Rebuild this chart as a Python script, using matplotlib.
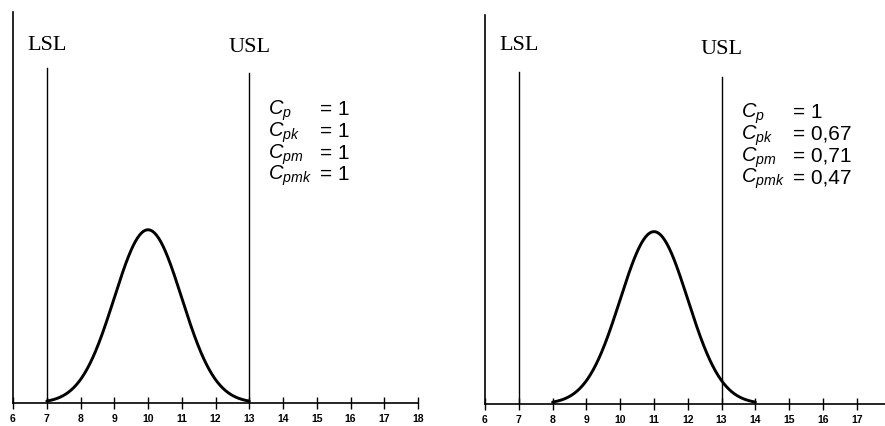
import numpy as np
import matplotlib
matplotlib.use("Agg")
import matplotlib.pyplot as plt

plt.rcParams['mathtext.fontset'] = 'custom'
plt.rcParams['mathtext.it'] = 'Liberation Sans:italic'
plt.rcParams['mathtext.rm'] = 'Liberation Sans'

# ---- data ----
lsl = 7
usl = 13
means = [10, 11]          # process mean, left / right panel
sigma = 1
ticks_left = list(range(6, 19))
ticks_right = list(range(6, 18))
index_names = [r"$C_{p}$", r"$C_{pk}$", r"$C_{pm}$", r"$C_{pmk}$"]
values_left = ["1", "1", "1", "1"]
values_right = ["1", "0,67", "0,71", "0,47"]

W, H = 885, 426
fig = plt.figure(figsize=(W / 100, H / 100), dpi=100)
fig.patch.set_facecolor("white")


def panel(rect, xmax, ticks, mean, values, spec_tops, label_y, text_x, row_y):
    ax = fig.add_axes(rect)
    # normal curve over +-3 sigma
    x = np.linspace(mean - 3 * sigma, mean + 3 * sigma, 300)
    y = np.exp(-0.5 * ((x - mean) / sigma) ** 2) / (sigma * np.sqrt(2 * np.pi))
    ax.plot(x, y, color="black", lw=2.1, solid_capstyle="round")
    ax.set_xlim(6, xmax)
    ax.set_ylim(0, 0.3989 / 0.443)

    ax.axvline(lsl, ymin=0, ymax=spec_tops[0], color="black", lw=1.0)
    ax.axvline(usl, ymin=0, ymax=spec_tops[1], color="black", lw=1.0)
    ax.text(lsl, label_y[0], "LSL", transform=ax.get_xaxis_transform(),
            ha="center", va="center", family="Liberation Serif", fontsize=16)
    ax.text(usl, label_y[1], "USL", transform=ax.get_xaxis_transform(),
            ha="center", va="center", family="Liberation Serif", fontsize=16)

    tr = ax.get_xaxis_transform()
    for name, val, yy in zip(index_names, values, row_y):
        ax.text(text_x[0], yy, name, transform=tr, ha="left", va="baseline",
                fontsize=14.5)
        ax.text(text_x[1], yy, "= " + val, transform=tr, ha="left",
                va="baseline", family="Liberation Sans", fontsize=15)

    for s in ["top", "right"]:
        ax.spines[s].set_visible(False)
    ax.spines["left"].set_linewidth(1.2)
    ax.spines["bottom"].set_linewidth(1.2)
    ax.set_yticks([])
    ax.set_xticks(ticks)
    ax.set_xticklabels([str(t) for t in ticks], fontsize=7.5,
                       fontweight="bold", family="Liberation Sans")
    ax.tick_params(axis="x", direction="inout", length=8, width=1, pad=4)
    ax.patch.set_alpha(0)
    return ax


def fy(py, top, bottom):
    return (bottom - py) / (bottom - top)


# left panel: axis from px 13 (x=6) to 418 (x=18), baseline y=403, top y=12
panel([13 / W, (H - 403) / H, 405 / W, 391 / H], 18, ticks_left, means[0],
      values_left,
      spec_tops=[fy(68, 12, 403), fy(73, 12, 403)],
      label_y=[fy(45, 12, 403), fy(48, 12, 403)],
      text_x=[6 + (268 - 13) / 33.75, 6 + (320 - 13) / 33.75],
      row_y=[fy(p, 12, 403) for p in [115, 137, 159, 180]])

# right panel: axis from px 485 (x=6), 33.8 px per unit, baseline 404, top 15
panel([485 / W, (H - 404) / H, 400 / W, 389 / H], 6 + 400 / 33.8, ticks_right,
      means[1], values_right,
      spec_tops=[fy(72, 15, 404), fy(77, 15, 404)],
      label_y=[fy(46, 15, 404), fy(50, 15, 404)],
      text_x=[6 + (741 - 485) / 33.8, 6 + (793 - 485) / 33.8],
      row_y=[fy(p, 15, 404) for p in [118, 140, 162, 183]])

fig.savefig("out.png", dpi=100, facecolor="white")
